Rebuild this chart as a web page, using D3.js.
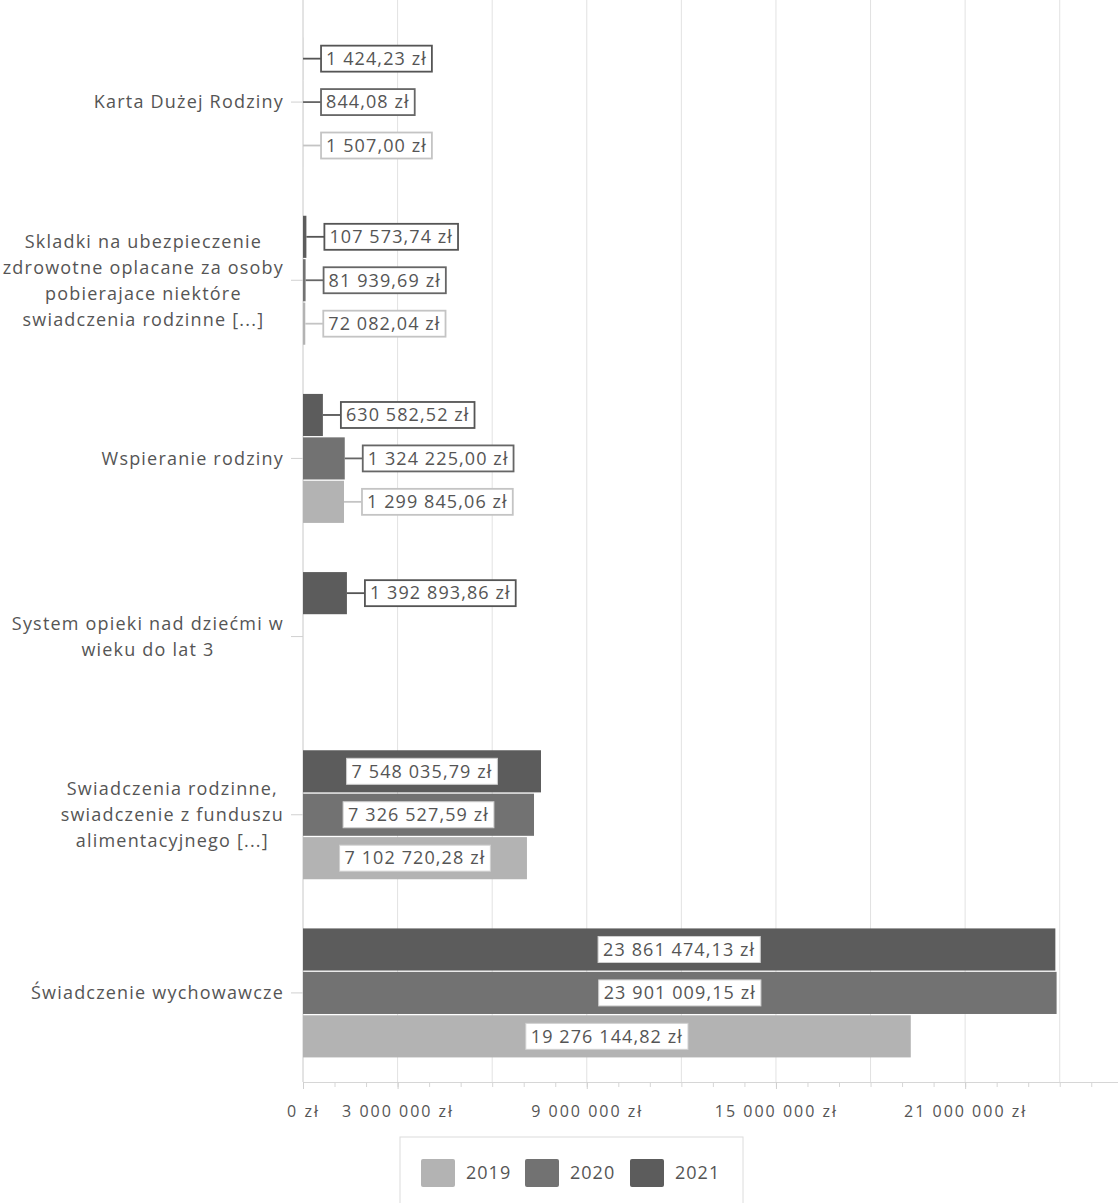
<!DOCTYPE html>
<html>
<head>
<meta charset="utf-8">
<script src="https://cdn.jsdelivr.net/npm/d3@7"></script>
<style>
  body { margin: 0; background: #fff; }
  svg text { font-family: "Open Sans", sans-serif; fill: #555; }
</style>
</head>
<body>
<svg id="chart" width="1118" height="1203"></svg>
<script>
// dane
const categories = [
  'Karta Dużej Rodziny',
  'Skladki na ubezpieczenie zdrowotne',
  'Wspieranie rodziny',
  'System opieki nad dziećmi',
  'Swiadczenia rodzinne',
  'Świadczenie wychowawcze'
];
const categoryLines = [
  ['Karta Dużej Rodziny'],
  ['Skladki na ubezpieczenie', 'zdrowotne oplacane za osoby', 'pobierajace niektóre', 'swiadczenia rodzinne [...]'],
  ['Wspieranie rodziny'],
  ['System opieki nad dziećmi w', 'wieku do lat 3'],
  ['Swiadczenia rodzinne,', 'swiadczenie z funduszu', 'alimentacyjnego [...]'],
  ['Świadczenie wychowawcze']
];
const years = ['2019', '2020', '2021'];
const values2019 = [1507.00, 72082.04, 1299845.06, null, 7102720.28, 19276144.82];
const values2020 = [844.08, 81939.69, 1324225.00, null, 7326527.59, 23901009.15];
const values2021 = [1424.23, 107573.74, 630582.52, 1392893.86, 7548035.79, 23861474.13];
const xTicks = [0, 3e6, 6e6, 9e6, 12e6, 15e6, 18e6, 21e6, 24e6];
const xTickLabels = [0, 3e6, 9e6, 15e6, 21e6];

const colors = {'2019': '#b3b3b3', '2020': '#727272', '2021': '#5c5c5c'};
const labelStroke = {'2019': '#c4c4c4', '2020': '#666', '2021': '#555'};
const labelText = {'2019': '#a0a0a0', '2020': '#555', '2021': '#555'};

const series = {'2019': values2019, '2020': values2020, '2021': values2021};

const pl = d3.formatLocale({decimal: ',', thousands: '\u00a0', grouping: [3], currency: ['', '\u00a0zł']});
const fmt = pl.format('$,.2f');
const fmtAxis = pl.format('$,.0f');

const svg = d3.select('#chart');
const x0 = 303, axisY = 1082;

const x = d3.scaleLinear().domain([0, 27e6]).range([x0, x0 + 27 * 31.53]);
const y = d3.scaleBand().domain(categories).range([13, axisY]).paddingInner(0.276).paddingOuter(0.138);
const ySub = d3.scaleBand().domain(['2021', '2020', '2019']).range([0, y.bandwidth()]).paddingInner(0.03);

// siatka
svg.append('g').selectAll('line').data(xTicks).join('line')
  .attr('x1', d => x(d)).attr('x2', d => x(d))
  .attr('y1', 0).attr('y2', axisY)
  .attr('stroke', '#e2e2e2');

// os X
const minor = svg.append('g').attr('transform', `translate(0,${axisY})`)
  .call(d3.axisBottom(x).tickValues(d3.range(0, 28e6, 1e6)).tickSize(5).tickFormat(''));
minor.select('.domain').attr('stroke', '#d6d6d6');
minor.selectAll('.tick line').attr('stroke', '#d6d6d6');

const xAxis = svg.append('g').attr('transform', `translate(0,${axisY})`)
  .call(d3.axisBottom(x).tickValues(xTickLabels).tickSize(7).tickPadding(17).tickFormat(fmtAxis));
xAxis.select('.domain').remove();
xAxis.selectAll('.tick line').attr('stroke', '#d0d0d0');
xAxis.selectAll('text').style('font-size', '16px').style('letter-spacing', '2px').attr('fill', '#555');

// os Y
svg.append('line').attr('x1', x0).attr('x2', x0).attr('y1', 0).attr('y2', axisY).attr('stroke', '#d6d6d6');
svg.append('g').selectAll('line').data(categories).join('line')
  .attr('x1', x0 - 12).attr('x2', x0)
  .attr('y1', d => y(d) + y.bandwidth() / 2).attr('y2', d => y(d) + y.bandwidth() / 2)
  .attr('stroke', '#d0d0d0');

// etykiety kategorii
categories.forEach((c, i) => {
  const lines = categoryLines[i];
  const lh = 26;
  const cy = y(c) + y.bandwidth() / 2;
  const g = svg.append('g');
  const t = g.selectAll('text').data(lines).join('text')
    .attr('y', (d, j) => cy + (j - (lines.length - 1) / 2) * lh)
    .attr('dy', '0.35em')
    .attr('text-anchor', 'middle')
    .style('font-size', '18px')
    .style('letter-spacing', '1.2px')
    .text(d => d);
  let maxW = 0;
  t.each(function () { maxW = Math.max(maxW, this.getComputedTextLength()); });
  t.attr('x', 284 - maxW / 2);
});

// slupki
const bars = [];
years.forEach(yr => {
  series[yr].forEach((v, i) => {
    if (v != null) bars.push({year: yr, cat: categories[i], value: v});
  });
});

svg.append('g').selectAll('rect').data(bars).join('rect')
  .attr('x', x0)
  .attr('y', d => y(d.cat) + ySub(d.year))
  .attr('width', d => x(d.value) - x0)
  .attr('height', ySub.bandwidth())
  .attr('fill', d => colors[d.year]);

// etykiety wartosci
bars.forEach(d => {
  const cy = y(d.cat) + ySub(d.year) + ySub.bandwidth() / 2;
  const w = x(d.value) - x0;
  const g = svg.append('g');
  const rect = g.append('rect');
  const t = g.append('text')
    .attr('dy', '0.35em')
    .style('font-size', '18px')
    .style('letter-spacing', '1.1px')
    .attr('fill', labelText[d.year])
    .text(fmt(d.value));
  const tw = t.node().getComputedTextLength();
  const bw = tw + 10, bh = 26;
  let bx;
  if (w > bw + 20) {
    bx = x0 + w / 2 - bw / 2;
    rect.attr('stroke', '#d0d0d0').attr('stroke-width', 1);
  } else {
    bx = x(d.value) + 18;
    g.insert('line', 'rect')
      .attr('x1', x(d.value)).attr('x2', bx)
      .attr('y1', cy).attr('y2', cy)
      .attr('stroke', labelStroke[d.year]).attr('stroke-width', 1.8);
    rect.attr('stroke', labelStroke[d.year]).attr('stroke-width', 1.8);
  }
  rect.attr('x', bx).attr('y', cy - bh / 2).attr('width', bw).attr('height', bh).attr('fill', '#fff');
  t.attr('x', bx + 5).attr('y', cy);
});

// legenda
svg.append('rect').attr('x', 400).attr('y', 1137).attr('width', 343).attr('height', 90)
  .attr('fill', '#fff').attr('stroke', '#dcdcdc');
const legX = [421, 525, 630];
const leg = svg.append('g').selectAll('g').data(years).join('g')
  .attr('transform', (d, i) => `translate(${legX[i]},1159)`);
leg.append('rect').attr('width', 34).attr('height', 28).attr('rx', 2).attr('fill', d => colors[d]);
leg.append('text').attr('x', 45).attr('y', 14).attr('dy', '0.35em')
  .style('font-size', '18px').style('letter-spacing', '1px').text(d => d);
</script>
</body>
</html>
